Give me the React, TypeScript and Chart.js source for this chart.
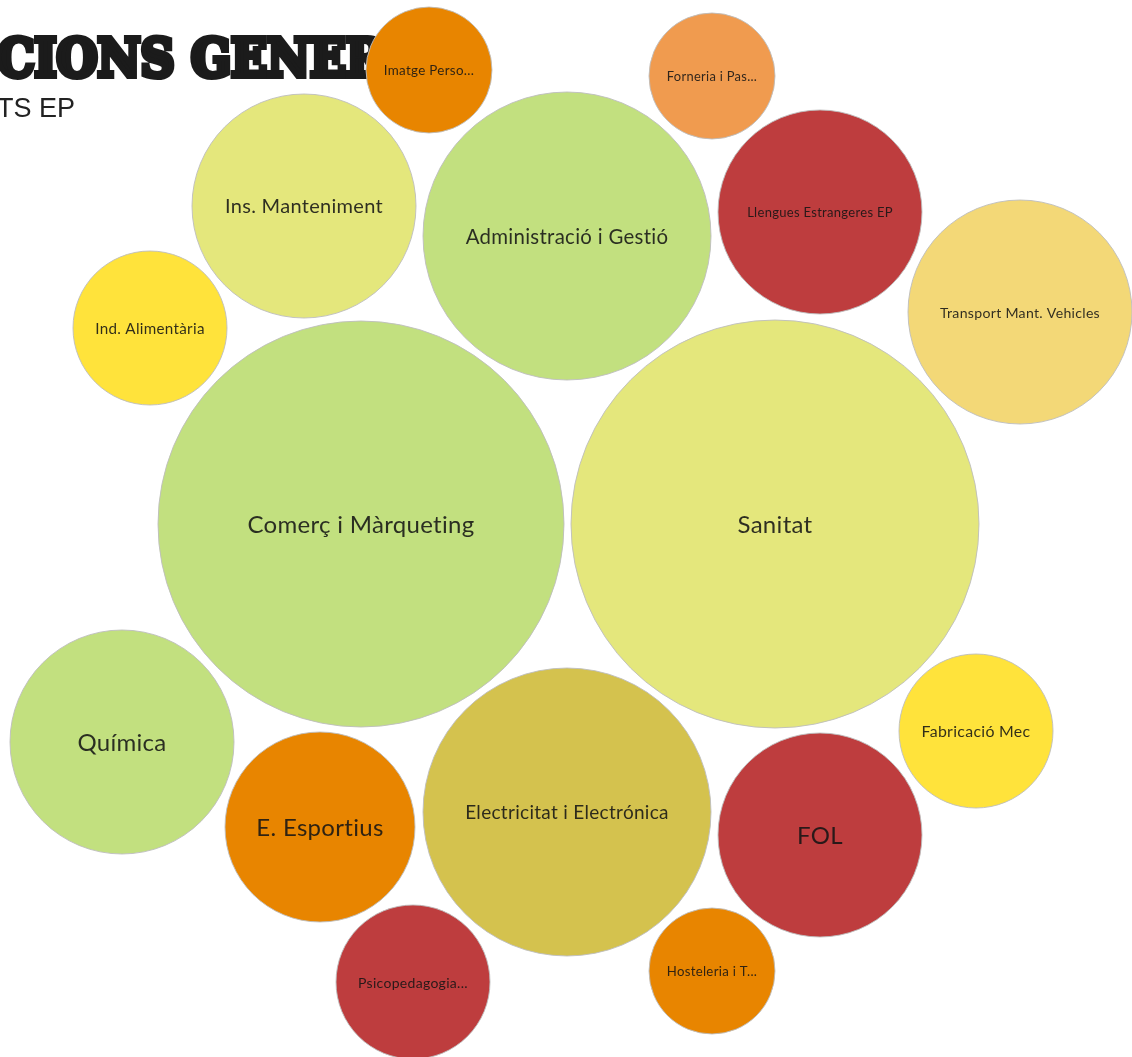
import React, { useEffect, useRef } from "react";
import { Chart, registerables } from "chart.js";

Chart.register(...registerables);

const TITLE = "ATRIBUCIONS GENERAL";
const SUBTITLE = "ESPECIALITATS EP";

const labels = [
  "Imatge Perso...",
  "Forneria i Pas...",
  "Ins. Manteniment",
  "Administració i Gestió",
  "Llengues Estrangeres EP",
  "Transport Mant. Vehicles",
  "Ind. Alimentària",
  "Comerç i Màrqueting",
  "Sanitat",
  "Química",
  "E. Esportius",
  "Electricitat i Electrónica",
  "FOL",
  "Fabricació Mec",
  "Psicopedagogia...",
  "Hosteleria i T...",
];
const xValues = [429, 712, 304, 567, 820, 1020, 150, 361, 775, 122, 320, 567, 820, 976, 413, 712];
const yValues = [70, 76, 206, 236, 212, 312, 328, 524, 524, 742, 827, 812, 835, 731, 982, 971];
const sizes = [63, 63, 112, 144, 102, 112, 77, 203, 204, 112, 95, 144, 102, 77, 77, 63];
const colors = [
  "#E88500",
  "#F09B4F",
  "#E4E77C",
  "#C2E07F",
  "#BE3D3E",
  "#F3D877",
  "#FFE33B",
  "#C2E07F",
  "#E4E77C",
  "#C2E07F",
  "#E88500",
  "#D4C24E",
  "#BE3D3E",
  "#FFE33B",
  "#BE3D3E",
  "#E88500",
];

const LABEL_FONT = "Lato, 'Noto Sans', sans-serif";

const titlePlugin = {
  id: "titleText",
  beforeDatasetsDraw(chart: any) {
    const ctx = chart.ctx as CanvasRenderingContext2D;
    ctx.save();
    ctx.font = "bold 52px 'DejaVu Serif'";
    ctx.fillStyle = "#1b1b1b";
    ctx.strokeStyle = "#1b1b1b";
    ctx.lineWidth = 6;
    ctx.lineJoin = "miter";
    ctx.textBaseline = "alphabetic";
    ctx.textAlign = "left";
    const visible = "CIONS GENER";
    const vw = ctx.measureText(visible).width;
    const sx = 388 / vw;
    const prefix = "ATRIBU";
    const pw = ctx.measureText(prefix).width;
    ctx.translate(-3, 76);
    ctx.scale(sx, 1);
    ctx.fillText(TITLE, -pw, 0);
    ctx.strokeText(TITLE, -pw, 0);
    ctx.restore();

    ctx.save();
    ctx.font = "27px 'Liberation Sans', Arial, sans-serif";
    ctx.fillStyle = "#222";
    ctx.textAlign = "right";
    ctx.textBaseline = "alphabetic";
    ctx.fillText(SUBTITLE, 75, 117);
    ctx.restore();
  },
};

const labelPlugin = {
  id: "bubbleLabels",
  afterDatasetsDraw(chart: any) {
    const ctx = chart.ctx as CanvasRenderingContext2D;
    const meta = chart.getDatasetMeta(0);
    ctx.save();
    ctx.textAlign = "center";
    ctx.textBaseline = "middle";
    ctx.fillStyle = "rgba(20,20,20,0.88)";
    (ctx as any).letterSpacing = "0.3px";
    meta.data.forEach((el: any, i: number) => {
      const r = sizes[i];
      const text = labels[i];
      ctx.font = `24px ${LABEL_FONT}`;
      const w24 = ctx.measureText(text).width;
      const fit = 0.7 * 2 * r;
      let size = Math.min(24, (24 * fit) / w24);
      size = Math.max(10, size);
      ctx.font = `${size.toFixed(1)}px ${LABEL_FONT}`;
      ctx.fillText(text, el.x, el.y + 1);
    });
    ctx.restore();
  },
};

export default function App() {
  const ref = useRef<HTMLCanvasElement | null>(null);

  useEffect(() => {
    document.body.style.margin = "0";
    document.body.style.overflow = "hidden";
    if (!ref.current) return;
    const data = labels.map((_, i) => ({ x: xValues[i], y: yValues[i], r: sizes[i] }));
    const chart = new Chart(ref.current, {
      type: "bubble",
      data: {
        labels,
        datasets: [
          {
            label: "Especialitats",
            data,
            backgroundColor: colors,
            borderColor: "rgba(190,190,190,0.9)",
            borderWidth: 1,
            hoverRadius: 0,
            hoverBorderWidth: 1,
            clip: false,
          } as any,
        ],
      },
      options: {
        animation: false,
        responsive: false,
        devicePixelRatio: 1,
        layout: { padding: 0, autoPadding: false },
        events: [],
        plugins: {
          legend: { display: false },
          tooltip: { enabled: false },
          title: { display: false },
        },
        scales: {
          x: { type: "linear", min: 0, max: 1132, display: false },
          y: { type: "linear", min: 0, max: 1057, reverse: true, display: false },
        },
      },
      plugins: [titlePlugin, labelPlugin],
    });
    return () => chart.destroy();
  }, []);

  return (
    <div style={{ width: 1132, height: 1057, background: "#fff" }}>
      <canvas ref={ref} width={1132} height={1057} />
    </div>
  );
}
